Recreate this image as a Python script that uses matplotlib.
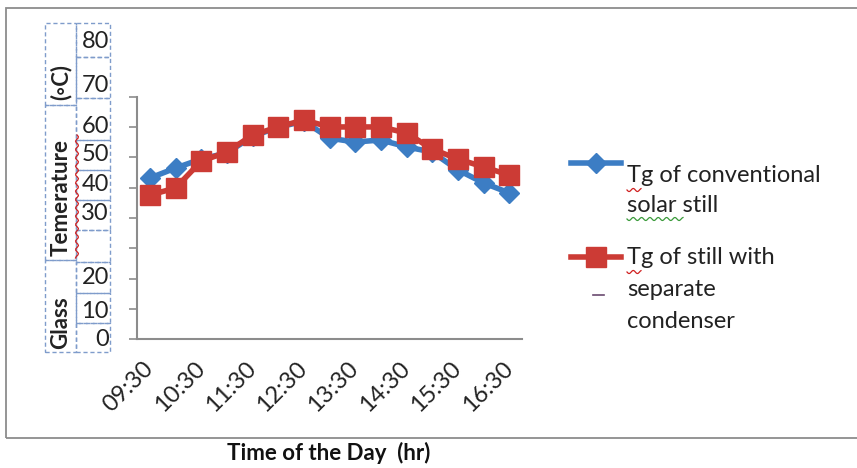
import numpy as np
import matplotlib
matplotlib.use('Agg')
import matplotlib.pyplot as plt
from matplotlib.lines import Line2D
from matplotlib.patches import Rectangle

plt.rcParams['font.family'] = ['Lato', 'DejaVu Sans']

# half-hourly readings of the glass temperature
times = ['09:30', '10:00', '10:30', '11:00', '11:30', '12:00', '12:30', '13:00',
         '13:30', '14:00', '14:30', '15:00', '15:30', '16:00', '16:30']
tg_conventional = [53.2, 56.5, 59.5, 61.5, 67.0, 70.0, 72.0, 66.4,
                   65.1, 65.8, 63.5, 61.8, 55.9, 51.6, 48.3]
tg_separate = [47.6, 49.9, 58.8, 61.8, 67.4, 70.1, 72.4, 70.1,
               70.1, 70.1, 68.1, 62.8, 59.5, 56.9, 54.2]

# text boxes down the left side
ylabel_values = ['80', '70', '60', '50', '40', '30', '20', '10', '0']
ylabel_rows = [42, 85, 127, 155, 185, 214, 277, 311, 340]
title_parts = ['(◦C)', 'Temerature', 'Glass']
title_rows = [82, 197, 323]

legend_names = [['Tg of conventional', 'solar still'],
                ['Tg of still with', 'separate', 'condenser']]

blue = '#3C7DC4'
red = '#CC3B35'
grey = '#8C8C8C'
W, H = 857, 468

fig = plt.figure(figsize=(W / 100, H / 100), dpi=100)


def fx(px):
    return px / W


def fy(py):
    return 1 - py / H


ax = fig.add_axes([fx(137), fy(339), fx(522) - fx(137), fy(97) - fy(339)])
x = np.arange(len(times))
ax.plot(x, tg_conventional, color=blue, lw=4, marker='D', ms=10, mec=blue, zorder=2)
ax.plot(x, tg_separate, color=red, lw=4, marker='s', ms=14, mec=red, zorder=3)

ax.set_xlim(-0.5, len(times) - 0.5)
ax.set_ylim(0, 80)
ax.set_yticks(np.arange(0, 81, 10))
ax.set_yticklabels([])
ax.set_xticks(x[::2])
ax.set_xticklabels(times[::2], rotation=45, ha='right', va='center',
                   rotation_mode='anchor', fontsize=17, color='#222222')
ax.tick_params(axis='x', length=0, pad=19)
ax.tick_params(axis='y', direction='out', length=6, color=grey, width=1.2)
for side in ['top', 'right']:
    ax.spines[side].set_visible(False)
for side in ['left', 'bottom']:
    ax.spines[side].set_color(grey)
    ax.spines[side].set_linewidth(1.5)

# outer chart border
fig.add_artist(Rectangle((fx(6), fy(438)), 1.2, fy(8) - fy(438),
                         transform=fig.transFigure, fill=False, ec=grey, lw=1.3))

# dashed text boxes
box_c = '#7F9CCB'
for y0, y1 in [(23, 105), (105, 260), (260, 352)]:
    fig.add_artist(Rectangle((fx(45), fy(y1)), fx(76) - fx(45), fy(y0) - fy(y1),
                             transform=fig.transFigure, fill=False, ec=box_c,
                             lw=1, ls=(0, (3, 2))))
edges = [23, 57, 98, 140, 170, 200, 230, 262, 293, 323, 352]
for y0, y1 in zip(edges[:-1], edges[1:]):
    fig.add_artist(Rectangle((fx(76), fy(y1)), fx(110) - fx(76), fy(y0) - fy(y1),
                             transform=fig.transFigure, fill=False, ec=box_c,
                             lw=1, ls=(0, (3, 2))))

for lab, row in zip(ylabel_values, ylabel_rows):
    fig.text(fx(109), fy(row), lab, ha='right', va='center', fontsize=17, color='#222222')
for part, row in zip(title_parts, title_rows):
    fig.text(fx(61), fy(row), part, ha='center', va='center', rotation=90,
             fontsize=16, fontweight='bold', color='#222222')


def squiggle(x0, x1, y0, y1, color):
    t = np.linspace(0, 1, 80)
    xs = x0 + (x1 - x0) * t
    ys = y0 + (y1 - y0) * t
    n = 12 * np.hypot(x1 - x0, y1 - y0) / 100
    wob = 1.5 * np.sin(2 * np.pi * n * t)
    if x1 == x0:
        xs = xs + wob
    else:
        ys = ys + wob
    fig.add_artist(Line2D(fx(xs), fy(ys), transform=fig.transFigure, color=color, lw=0.9))


squiggle(77, 77, 135, 258, '#D02020')

# legend drawn by hand
leg_rows = [(163, 176, 29), (257, 258, 32)]
for (ly, ty, step), names, c, m, ms in zip(leg_rows, legend_names, [blue, red],
                                          ['D', 's'], [10, 14]):
    fig.add_artist(Line2D([fx(571), fx(621)], [fy(ly), fy(ly)], transform=fig.transFigure,
                          color=c, lw=4))
    fig.add_artist(Line2D([fx(596)], [fy(ly)], transform=fig.transFigure, color=c,
                          marker=m, ms=ms, mec=c))
    for i, name in enumerate(names):
        fig.text(fx(627), fy(ty + i * step), name, ha='left', va='center',
                 fontsize=17, color='#222222')
fig.add_artist(Line2D([fx(593), fx(604)], [fy(295), fy(295)], transform=fig.transFigure,
                      color='#6A4A70', lw=1.2))
squiggle(627, 641, 190, 190, '#D02020')
squiggle(627, 683, 219, 219, '#3A9A3A')
squiggle(627, 641, 272, 272, '#D02020')

fig.text(fx(329), fy(453), 'Time of the Day  (hr)', ha='center', va='center',
         fontsize=16, fontweight='bold', color='#111111')

fig.savefig('out.png', dpi=100, facecolor='white')
